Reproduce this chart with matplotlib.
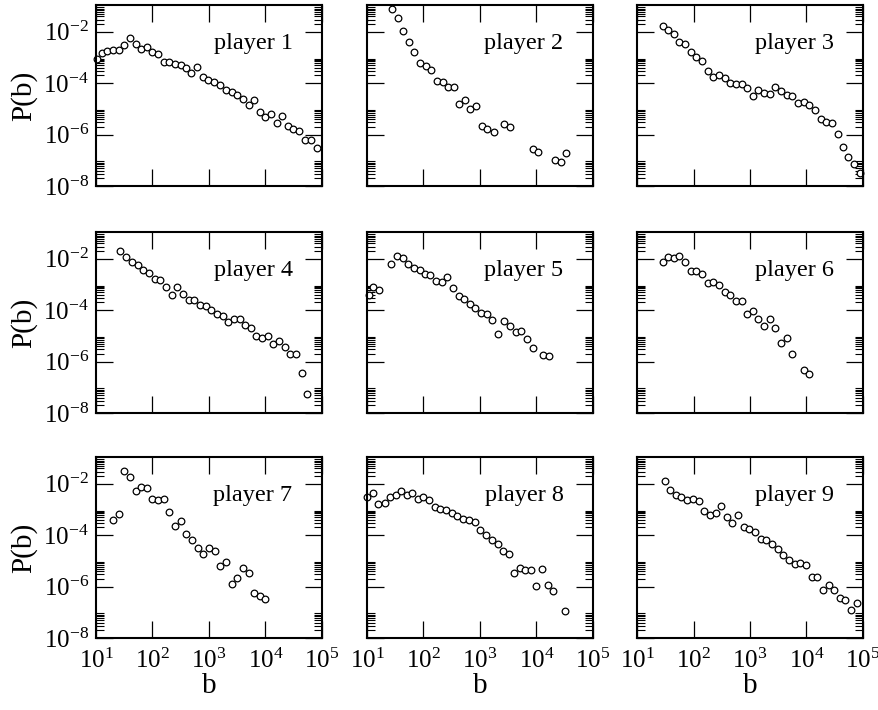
import numpy as np
import matplotlib
matplotlib.use('Agg')
import matplotlib.pyplot as plt
from matplotlib.ticker import FixedLocator, LogLocator, LogFormatterSciNotation, NullFormatter

plt.rcParams['font.family'] = ['Liberation Serif', 'DejaVu Serif']
plt.rcParams['mathtext.fontset'] = 'custom'
plt.rcParams['mathtext.rm'] = 'Liberation Serif'
plt.rcParams['mathtext.it'] = 'Liberation Serif:italic'
plt.rcParams['axes.unicode_minus'] = False

# ============ 数据 (log10 b, log10 P(b)) ============
players = ['player 1', 'player 2', 'player 3', 'player 4', 'player 5',
           'player 6', 'player 7', 'player 8', 'player 9']

logb_1 = [1.01, 1.10, 1.20, 1.30, 1.40, 1.50, 1.60, 1.70, 1.80, 1.90, 2.00, 2.10, 2.20, 2.30,
          2.40, 2.50, 2.59, 2.69, 2.79, 2.89, 2.99, 3.09, 3.19, 3.30, 3.40, 3.50, 3.60, 3.70,
          3.80, 3.90, 4.00, 4.10, 4.20, 4.30, 4.40, 4.49, 4.59, 4.70, 4.80, 4.91]
logp_1 = [-3.06, -2.84, -2.74, -2.69, -2.71, -2.52, -2.25, -2.46, -2.67, -2.61, -2.80, -2.87,
          -3.19, -3.17, -3.26, -3.30, -3.42, -3.60, -3.36, -3.75, -3.87, -3.96, -4.09, -4.26,
          -4.35, -4.45, -4.61, -4.83, -4.65, -5.13, -5.32, -5.19, -5.54, -5.27, -5.67, -5.78,
          -5.85, -6.22, -6.20, -6.52]

logb_2 = [1.44, 1.54, 1.64, 1.74, 1.84, 1.94, 2.04, 2.14, 2.24, 2.34, 2.43, 2.54, 2.63, 2.74,
          2.83, 2.93, 3.03, 3.13, 3.24, 3.43, 3.53, 3.93, 4.03, 4.33, 4.43, 4.53]
logp_2 = [-1.13, -1.45, -1.97, -2.39, -2.80, -3.23, -3.33, -3.47, -3.93, -3.95, -4.13, -4.15,
          -4.80, -4.67, -5.02, -4.88, -5.68, -5.77, -5.88, -5.60, -5.72, -6.57, -6.67, -6.99,
          -7.08, -6.71]

logb_3 = [1.46, 1.55, 1.66, 1.75, 1.85, 1.95, 2.05, 2.15, 2.25, 2.35, 2.45, 2.55, 2.65, 2.75,
          2.85, 2.95, 3.05, 3.15, 3.25, 3.35, 3.45, 3.55, 3.65, 3.75, 3.85, 3.95, 4.05, 4.15,
          4.25, 4.35, 4.45, 4.55, 4.65, 4.74, 4.84, 4.95]
logp_3 = [-1.77, -1.94, -2.10, -2.38, -2.48, -2.77, -3.00, -3.15, -3.51, -3.75, -3.67, -3.81,
          -4.00, -4.03, -4.03, -4.20, -4.48, -4.26, -4.39, -4.41, -4.13, -4.29, -4.45, -4.48,
          -4.78, -4.74, -4.84, -5.06, -5.38, -5.51, -5.55, -5.96, -6.48, -6.87, -7.15, -7.51]

logb_4 = [1.43, 1.53, 1.63, 1.74, 1.84, 1.94, 2.04, 2.14, 2.24, 2.34, 2.44, 2.54, 2.64, 2.74,
          2.84, 2.94, 3.04, 3.14, 3.24, 3.34, 3.44, 3.54, 3.64, 3.74, 3.84, 3.94, 4.04, 4.14,
          4.24, 4.34, 4.44, 4.54, 4.64, 4.74]
logp_4 = [-1.68, -1.92, -2.11, -2.24, -2.43, -2.56, -2.79, -2.84, -3.10, -3.42, -3.08, -3.36,
          -3.59, -3.59, -3.78, -3.85, -3.98, -4.13, -4.24, -4.45, -4.34, -4.34, -4.56, -4.69,
          -5.01, -5.10, -5.01, -5.31, -5.18, -5.42, -5.72, -5.72, -6.45, -7.25]

logb_5 = [1.03, 1.11, 1.22, 1.43, 1.53, 1.63, 1.73, 1.83, 1.93, 2.02, 2.12, 2.22, 2.32, 2.42,
          2.52, 2.62, 2.72, 2.82, 2.92, 3.02, 3.12, 3.22, 3.32, 3.42, 3.53, 3.63, 3.73, 3.83,
          3.93, 4.12, 4.22]
logp_5 = [-3.40, -3.10, -3.23, -2.20, -1.89, -1.97, -2.20, -2.34, -2.43, -2.60, -2.62, -2.86,
          -2.92, -2.71, -3.14, -3.44, -3.55, -3.75, -3.91, -4.11, -4.13, -4.40, -4.92, -4.43,
          -4.60, -4.84, -4.82, -5.14, -5.46, -5.76, -5.77]

logb_6 = [1.46, 1.55, 1.66, 1.75, 1.85, 1.95, 2.05, 2.15, 2.25, 2.35, 2.45, 2.55, 2.65, 2.75,
          2.85, 2.95, 3.05, 3.15, 3.25, 3.35, 3.45, 3.55, 3.65, 3.75, 3.95, 4.05]
logp_6 = [-2.11, -1.95, -1.98, -1.88, -2.13, -2.46, -2.46, -2.59, -2.95, -2.92, -3.01, -3.31,
          -3.42, -3.63, -3.66, -4.14, -4.04, -4.34, -4.62, -4.36, -4.70, -5.27, -5.07, -5.69,
          -6.34, -6.47]

logb_7 = [1.30, 1.40, 1.50, 1.60, 1.70, 1.80, 1.90, 2.00, 2.10, 2.20, 2.30, 2.40, 2.50, 2.60,
          2.70, 2.80, 2.90, 3.00, 3.10, 3.20, 3.30, 3.40, 3.50, 3.60, 3.70, 3.80, 3.90, 4.00]
logp_7 = [-3.41, -3.18, -1.50, -1.73, -2.30, -2.12, -2.15, -2.60, -2.64, -2.60, -3.11, -3.63,
          -3.44, -3.95, -4.18, -4.49, -4.75, -4.51, -4.62, -5.18, -5.05, -5.89, -5.65, -5.28,
          -5.47, -6.25, -6.36, -6.47]

logb_8 = [1.00, 1.11, 1.20, 1.31, 1.41, 1.51, 1.61, 1.70, 1.80, 1.90, 2.00, 2.10, 2.20, 2.30,
          2.40, 2.50, 2.60, 2.70, 2.80, 2.91, 3.00, 3.11, 3.21, 3.31, 3.41, 3.51, 3.60, 3.70,
          3.80, 3.90, 4.00, 4.10, 4.20, 4.30, 4.50]
logp_8 = [-2.53, -2.34, -2.79, -2.75, -2.53, -2.44, -2.30, -2.44, -2.37, -2.60, -2.51, -2.64,
          -2.89, -2.98, -3.02, -3.13, -3.24, -3.37, -3.40, -3.50, -3.80, -3.98, -4.18, -4.36,
          -4.60, -4.75, -5.47, -5.27, -5.34, -5.34, -5.99, -5.32, -5.95, -6.17, -6.96]

logb_9 = [1.50, 1.58, 1.69, 1.78, 1.89, 1.99, 2.09, 2.19, 2.29, 2.39, 2.49, 2.59, 2.69, 2.79,
          2.89, 2.99, 3.09, 3.19, 3.29, 3.39, 3.49, 3.59, 3.69, 3.79, 3.89, 3.99, 4.09, 4.19,
          4.29, 4.39, 4.49, 4.59, 4.69, 4.79, 4.89]
logp_9 = [-1.89, -2.24, -2.43, -2.51, -2.64, -2.60, -2.66, -3.05, -3.22, -3.14, -2.88, -3.31,
          -3.54, -3.20, -3.69, -3.76, -3.86, -4.15, -4.18, -4.36, -4.53, -4.79, -4.96, -5.11,
          -5.07, -5.15, -5.63, -5.63, -6.12, -5.92, -6.12, -6.44, -6.53, -6.92, -6.63]

all_logb = [logb_1, logb_2, logb_3, logb_4, logb_5, logb_6, logb_7, logb_8, logb_9]
all_logp = [logp_1, logp_2, logp_3, logp_4, logp_5, logp_6, logp_7, logp_8, logp_9]

# 坐标轴刻度
x_major = [1e1, 1e2, 1e3, 1e4, 1e5]
y_major = [1e-8, 1e-6, 1e-4, 1e-2]
y_minor = [k * 10.0 ** e for e in (-8, -6, -4, -2) for k in range(2, 10)]

# ============ 画图 ============
W, H = 879, 710
fig = plt.figure(figsize=(W / 100, H / 100), dpi=100)

col_left = [96, 367, 637]
row_top = [5, 232, 457]
ax_w, ax_h = 226, 181

for i in range(9):
    r, c = divmod(i, 3)
    ax = fig.add_axes([col_left[c] / W, 1 - (row_top[r] + ax_h) / H, ax_w / W, ax_h / H])
    ax.set_xscale('log')
    ax.set_yscale('log')
    ax.set_xlim(1e1, 1e5)
    ax.set_ylim(1e-8, 0.11)

    ax.plot(10 ** np.array(all_logb[i]), 10 ** np.array(all_logp[i]), 'o',
            mfc='white', mec='black', ms=4.8, mew=0.9, clip_on=False)

    ax.text(0.87, 0.785, players[i], transform=ax.transAxes, ha='right', va='center',
            fontsize=17.5)

    ax.xaxis.set_major_locator(FixedLocator(x_major))
    ax.xaxis.set_minor_locator(LogLocator(base=10, subs=np.arange(2, 10)))
    ax.yaxis.set_major_locator(FixedLocator(y_major))
    ax.yaxis.set_minor_locator(FixedLocator(y_minor))
    ax.xaxis.set_minor_formatter(NullFormatter())
    ax.yaxis.set_minor_formatter(NullFormatter())
    ax.xaxis.set_major_formatter(LogFormatterSciNotation())
    ax.yaxis.set_major_formatter(LogFormatterSciNotation())

    ax.tick_params(which='both', direction='in', top=True, right=True, labelsize=18)
    ax.tick_params(which='major', length=12, width=0.9, pad=5)
    ax.tick_params(axis='x', which='major', pad=8)
    ax.tick_params(which='minor', length=6, width=0.8)
    for s in ax.spines.values():
        s.set_linewidth(1.5)

    if c == 0:
        ax.set_ylabel('P(b)', fontsize=21)
        ax.yaxis.set_label_coords(-0.26, 0.5)
    else:
        ax.tick_params(labelleft=False)
    if r == 2:
        ax.set_xlabel('b', fontsize=21)
        ax.xaxis.set_label_coords(0.5, -0.195)
    else:
        ax.tick_params(labelbottom=False)

plt.savefig('out.png', dpi=100)
plt.close()
